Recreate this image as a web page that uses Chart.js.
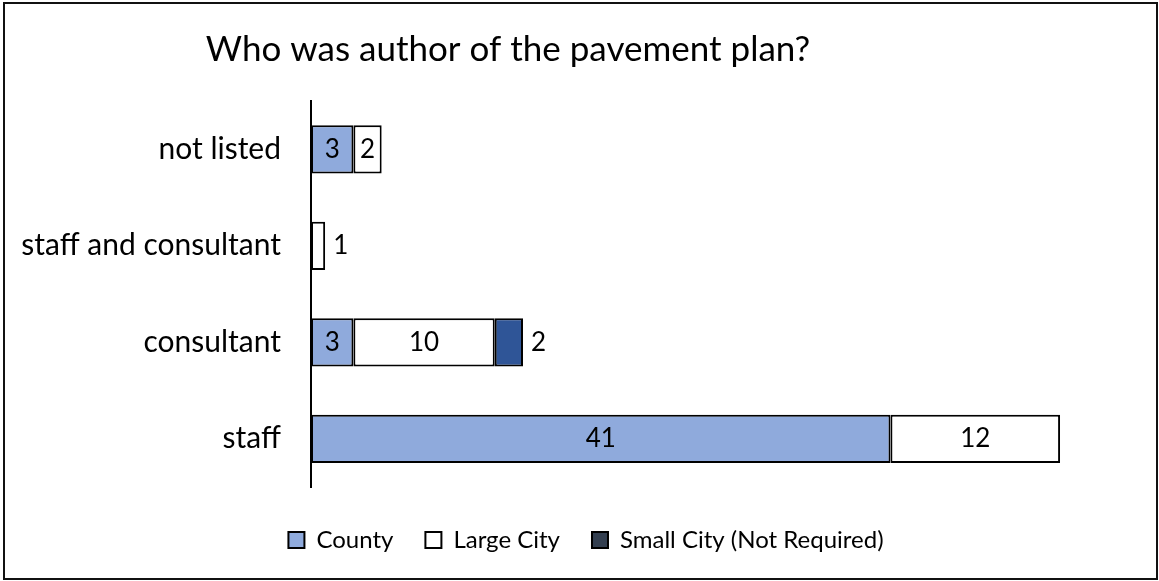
<!DOCTYPE html>
<html>
<head>
<meta charset="utf-8">
<script src="https://cdn.jsdelivr.net/npm/chart.js@4.4.1/dist/chart.umd.min.js"></script>
<style>
  html, body { margin: 0; padding: 0; background: #fff; }
  #wrap { position: relative; width: 1159px; height: 581px; }
  #frame { position: absolute; left: 3px; top: 2px; width: 1155px; height: 578px;
           box-sizing: border-box; border: 2px solid #111; pointer-events: none; }
  canvas { position: absolute; left: 0; top: 0; }
</style>
</head>
<body>
<div id="wrap">
  <canvas id="c" width="1159" height="581"></canvas>
  <div id="frame"></div>
</div>
<script>
// Survey answers, one row per author type (top to bottom)
const categories = ['not listed', 'staff and consultant', 'consultant', 'staff'];
const countyValues = [3, 0, 3, 41];
const largeCityValues = [2, 1, 10, 12];
const smallCityValues = [0, 0, 2, 0];
const seriesNames = ['County', 'Large City', 'Small City (Not Required)'];
const chartTitle = 'Who was author of the pavement plan?';
const xMax = 60;

const FONT = 'Lato, "Open Sans", sans-serif';

// Count labels: centred in a segment, or just past its end when asked / when it doesn't fit
const valueLabels = {
  id: 'valueLabels',
  afterDatasetsDraw(chart) {
    const ctx = chart.ctx;
    ctx.save();
    ctx.font = '26px ' + FONT;
    ctx.fillStyle = '#000';
    ctx.textBaseline = 'middle';
    chart.data.datasets.forEach((ds, di) => {
      const meta = chart.getDatasetMeta(di);
      meta.data.forEach((bar, i) => {
        const v = ds.data[i];
        if (!v) return;
        const text = String(v);
        const w = ctx.measureText(text).width;
        const p = bar.getProps(['x', 'base', 'y'], true);
        const left = Math.min(p.x, p.base), right = Math.max(p.x, p.base);
        const outside = ds.labelPlacement === 'end' ||
          (ds.labelPlacement === 'auto' && right - left < w + 6);
        if (outside) {
          ctx.textAlign = 'left';
          ctx.fillText(text, right + 8, p.y);
        } else {
          ctx.textAlign = 'center';
          ctx.fillText(text, (left + right) / 2, p.y);
        }
      });
    });
    ctx.restore();
  }
};

// Heading drawn over the plot, left of the canvas centre
const headline = {
  id: 'headline',
  afterDraw(chart, args, opts) {
    const ctx = chart.ctx;
    ctx.save();
    ctx.font = opts.size + 'px ' + FONT;
    ctx.fillStyle = '#000';
    ctx.textAlign = 'center';
    ctx.textBaseline = 'middle';
    ctx.fillText(opts.text, opts.x, opts.y);
    ctx.restore();
  }
};

new Chart(document.getElementById('c'), {
  type: 'bar',
  data: {
    labels: categories,
    datasets: [
      { label: seriesNames[0], data: countyValues, backgroundColor: '#8FAADC',
        labelPlacement: 'center' },
      { label: seriesNames[1], data: largeCityValues, backgroundColor: '#FFFFFF',
        labelPlacement: 'auto' },
      { label: seriesNames[2], data: smallCityValues, backgroundColor: '#2F5597',
        legendFill: '#333F50', labelPlacement: 'end' }
    ]
  },
  options: {
    indexAxis: 'y',
    responsive: false,
    animation: false,
    devicePixelRatio: 1,
    layout: { padding: { top: 101, left: 13, right: 0, bottom: 19 } },
    datasets: {
      bar: {
        borderColor: '#000', borderWidth: 2, borderSkipped: false,
        categoryPercentage: 1, barPercentage: 0.5
      }
    },
    scales: {
      x: {
        stacked: true, min: 0, max: xMax,
        ticks: { display: false },
        grid: { display: false },
        border: { display: false },
        afterFit(scale) { scale.height = 9; }
      },
      y: {
        stacked: true,
        grid: { display: false },
        border: { display: true, color: '#000', width: 2 },
        ticks: { color: '#000', padding: 22, font: { family: FONT, size: 30 } },
        afterFit(scale) { scale.width = 298; }
      }
    },
    plugins: {
      title: { display: false },
      tooltip: { enabled: false },
      legend: {
        position: 'bottom',
        labels: {
          color: '#000',
          font: { family: FONT, size: 24 },
          boxWidth: 16, boxHeight: 16, padding: 32,
          generateLabels(chart) {
            const items = Chart.defaults.plugins.legend.labels.generateLabels(chart);
            items.forEach(it => {
              const ds = chart.data.datasets[it.datasetIndex];
              if (ds.legendFill) it.fillStyle = ds.legendFill;
              it.lineWidth = 2;
            });
            return items;
          }
        }
      },
      headline: { text: chartTitle, x: 508, y: 50, size: 35 }
    }
  },
  plugins: [valueLabels, headline]
});
</script>
</body>
</html>
